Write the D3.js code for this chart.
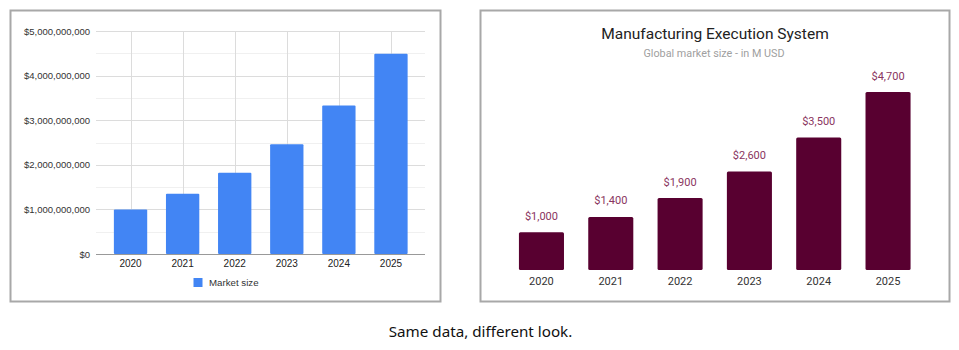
<!DOCTYPE html>
<html><head><meta charset="utf-8">
<script src="https://cdn.jsdelivr.net/npm/d3@7"></script>
<style>html,body{margin:0;padding:0;background:#fff;}svg{display:block;}</style>
</head><body>
<svg id="c" width="959" height="350"></svg>
<script>
// Data
const years = ["2020","2021","2022","2023","2024","2025"];
const leftValues = [1.0e9, 1.35e9, 1.82e9, 2.46e9, 3.33e9, 4.49e9];
const leftTicks = [0, 1e9, 2e9, 3e9, 4e9, 5e9];
const rightValues = [1000, 1400, 1900, 2600, 3500, 4700];
const rightTitle = "Manufacturing Execution System";
const rightSubtitle = "Global market size - in M USD";
const legendLabel = "Market size";
const caption = "Same data, different look.";

const svg = d3.select("#c");

// Panels
svg.append("rect").attr("x",10.5).attr("y",10.5).attr("width",430).attr("height",291)
  .attr("fill","#fff").attr("stroke","#a8a8a8").attr("stroke-width",2);
svg.append("rect").attr("x",480.5).attr("y",10.5).attr("width",469).attr("height",291)
  .attr("fill","#fff").attr("stroke","#a8a8a8").attr("stroke-width",2);

// ---------- Left chart ----------
const L = svg.append("g");
const lx = d3.scaleBand().domain(years).range([104.5, 417]).paddingInner(0.36).paddingOuter(0.18);
const ly = d3.scaleLinear().domain([0, 5e9]).range([254, 31]);
const gridX0 = 96, gridX1 = 425;
const minor = d3.range(0.5e9, 5e9, 1e9);
L.selectAll(".mg").data(minor).join("line")
  .attr("x1",gridX0).attr("x2",gridX1)
  .attr("y1",d=>Math.round(ly(d))+0.5).attr("y2",d=>Math.round(ly(d))+0.5)
  .attr("stroke","#f0f0f0").attr("stroke-width",1);
L.selectAll(".g").data(leftTicks.slice(1)).join("line")
  .attr("x1",gridX0).attr("x2",gridX1)
  .attr("y1",d=>Math.round(ly(d))+0.5).attr("y2",d=>Math.round(ly(d))+0.5)
  .attr("stroke","#dcdcdc").attr("stroke-width",1);
L.selectAll(".vg").data(years).join("line")
  .attr("x1",d=>Math.round(lx(d)+lx.bandwidth()/2)+0.5).attr("x2",d=>Math.round(lx(d)+lx.bandwidth()/2)+0.5)
  .attr("y1",ly(5e9)).attr("y2",ly(0))
  .attr("stroke","#dcdcdc").attr("stroke-width",1);
L.selectAll(".b").data(leftValues).join("rect")
  .attr("x",(d,i)=>lx(years[i])).attr("width",lx.bandwidth())
  .attr("y",d=>ly(d)).attr("height",d=>ly(0)-ly(d))
  .attr("fill","#4285f4").attr("rx",1);
L.append("line").attr("x1",gridX0).attr("x2",gridX1)
  .attr("y1",ly(0)+0.5).attr("y2",ly(0)+0.5).attr("stroke","#999").attr("stroke-width",1);
const fmtL = d3.format("$,");
L.selectAll(".yl").data(leftTicks).join("text")
  .attr("x",90).attr("y",d=>ly(d)+3.5)
  .attr("text-anchor","end").attr("font-family","Liberation Sans, Arial, sans-serif")
  .attr("font-size",9.5).attr("fill","#333").text(d=>fmtL(d));
L.selectAll(".xl").data(years).join("text")
  .attr("x",d=>lx(d)+lx.bandwidth()/2).attr("y",266.5)
  .attr("text-anchor","middle").attr("font-family","Liberation Sans, Arial, sans-serif")
  .attr("font-size",10).attr("fill","#222").text(d=>d);
L.append("rect").attr("x",193.5).attr("y",278).attr("width",9).attr("height",9).attr("fill","#4285f4");
L.append("text").attr("x",209).attr("y",286).attr("font-family","Liberation Sans, Arial, sans-serif")
  .attr("font-size",9.7).attr("fill","#333").text(legendLabel);

// ---------- Right chart ----------
const R = svg.append("g");
const rx = d3.scaleBand().domain(years).range([506.8, 922.7]).paddingInner(0.35).paddingOuter(0.175);
const ry = d3.scaleLinear().domain([0, 4700]).range([270, 92]);
R.append("text").attr("x",715).attr("y",38.5).attr("text-anchor","middle")
  .attr("font-family","Roboto, sans-serif").attr("font-size",15.5).attr("fill","#222").text(rightTitle);
R.append("text").attr("x",714).attr("y",57).attr("text-anchor","middle")
  .attr("font-family","Roboto, sans-serif").attr("font-size",10.8).attr("fill","#a0a0a0").text(rightSubtitle);
R.selectAll(".rb").data(rightValues).join("rect")
  .attr("x",(d,i)=>rx(years[i])).attr("width",rx.bandwidth())
  .attr("y",d=>ry(d)).attr("height",d=>ry(0)-ry(d))
  .attr("fill","#580030").attr("rx",1.5);
const fmtR = d3.format("$,");
R.selectAll(".rv").data(rightValues).join("text")
  .attr("x",(d,i)=>rx(years[i])+rx.bandwidth()/2).attr("y",d=>ry(d)-12.5)
  .attr("text-anchor","middle").attr("font-family","Roboto, sans-serif")
  .attr("font-size",11).attr("fill","#8a3560").text(d=>fmtR(d));
R.selectAll(".rx").data(years).join("text")
  .attr("x",d=>rx(d)+rx.bandwidth()/2).attr("y",285)
  .attr("text-anchor","middle").attr("font-family","Roboto, sans-serif")
  .attr("font-size",11).attr("fill","#333").text(d=>d);

// caption
svg.append("text").attr("x",480.5).attr("y",336.5).attr("text-anchor","middle")
  .attr("font-family","Noto Sans, sans-serif").attr("font-size",15.2).attr("fill","#111").text(caption);
</script>
</body></html>
